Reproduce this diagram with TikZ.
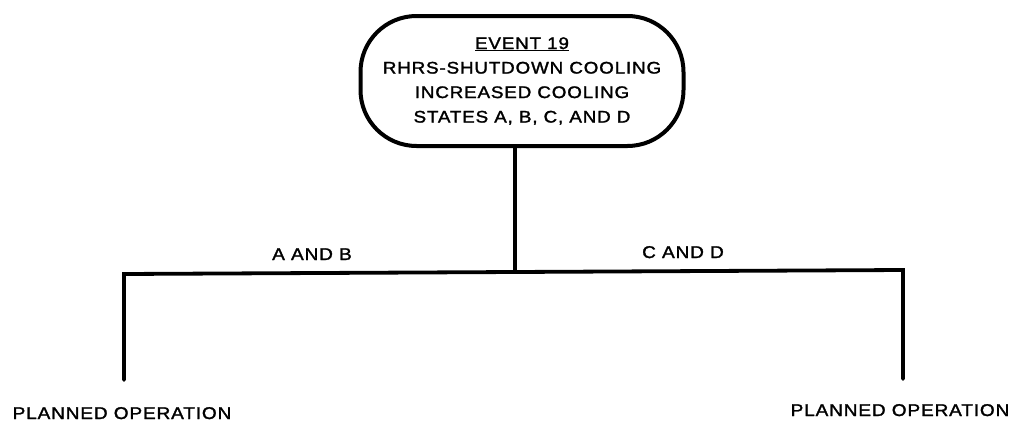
\documentclass[tikz,border=0pt]{standalone}
\usepackage{fontspec}
\setmainfont{Liberation Sans}
\newfontfamily\dgfont[FakeStretch=1.12,LetterSpace=5,FakeBold=1.6]{Liberation Sans}
\usetikzlibrary{positioning,calc}

\begin{document}
\begin{tikzpicture}[
  x=1pt, y=-1pt,
  event/.style={draw, line width=4pt, rounded corners=56pt, minimum width=323pt, minimum height=130pt, align=center, font=\dgfont\fontsize{16.8}{24.5}\selectfont, inner sep=0pt},
  lbl/.style={font=\dgfont\fontsize{17}{18}\selectfont, inner sep=0pt, anchor=base},
  branch/.style={line width=3.8pt, line cap=round}
]
\useasboundingbox (0,0) rectangle (1018,423);
\node[event] (ev) at (522,81) {\underline{EVENT 19}\\RHRS-SHUTDOWN COOLING\\INCREASED COOLING\\STATES A, B, C, AND D};
\coordinate (j) at (515,272);
\coordinate (l) at (124,274);
\coordinate (r) at (903,270);
\coordinate (lb) at (124,380);
\coordinate (rb) at (903,379);
\node[lbl] (ab) at (312,260) {A AND B};
\node[lbl] (cd) at (683,258) {C AND D};
\node[lbl] (po1) at (122,419) {PLANNED OPERATION};
\node[lbl] (po2) at (900,416) {PLANNED OPERATION};

\draw[branch] (ev.south -| j) -- (j);
\draw[branch] (lb) -- (l) -- (j) -- (r) -- (rb);
\end{tikzpicture}
\end{document}
